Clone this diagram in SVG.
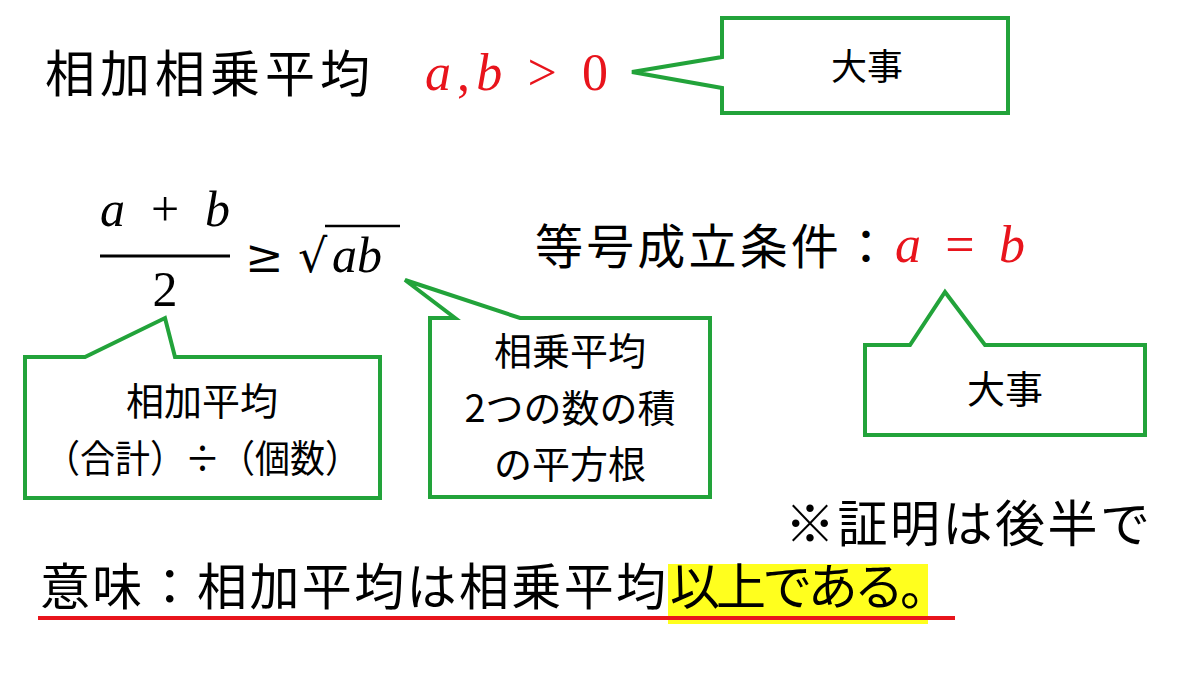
<svg xmlns="http://www.w3.org/2000/svg" width="1200" height="675" viewBox="0 0 1200 675">
<style>
.j{font-family:"Noto Sans CJK JP","Noto Sans",sans-serif;fill:#000}
.m{font-family:"Liberation Serif","DejaVu Serif",serif;font-style:italic}
.r{fill:#e8141c}
.c{fill:#fff;stroke:#22a33a;stroke-width:4;stroke-linejoin:miter}
</style>
<rect width="1200" height="675" fill="#fff"/>
<g id="title"><text class="j" x="45" y="92" font-size="50" textLength="325" lengthAdjust="spacing">相加相乗平均</text>
<text x="425" y="90" font-size="52" class="m r" textLength="183" lengthAdjust="spacing">a<tspan font-style="normal">,</tspan>b <tspan font-style="normal">&gt; 0</tspan></text></g>
<g id="callout1"><path class="c" d="M722,18 H1008 V113 H722 V88 L632,72 L722,57 Z"/>
<text class="j" x="867" y="80" font-size="36" text-anchor="middle">大事</text></g>
<g id="formula">
<text x="100" y="226" font-size="50" class="m" textLength="130" lengthAdjust="spacing">a <tspan font-style="normal">+</tspan> b</text>
<line x1="100" y1="256" x2="230" y2="256" stroke="#000" stroke-width="3"/>
<text x="165" y="306" font-size="50" text-anchor="middle" font-family="Liberation Serif,serif">2</text>
<text x="245" y="272" font-size="46" font-family="DejaVu Serif,serif">≥</text>
<text x="298" y="272" font-size="46" font-family="DejaVu Serif,serif">√</text>
<line x1="325" y1="226" x2="400" y2="226" stroke="#000" stroke-width="2.5"/>
<text x="332" y="272" font-size="50" class="m">ab</text></g>
<g id="equality"><text class="j" x="535" y="264" font-size="48" textLength="355" lengthAdjust="spacing">等号成立条件：</text>
<text x="895" y="262" font-size="52" class="m r" textLength="130" lengthAdjust="spacing">a <tspan font-style="normal">=</tspan> b</text></g>
<g id="callout2"><path class="c" d="M25,357 H85 L165,318 L175,357 H380 V498 H25 Z"/>
<text class="j" x="202" y="415" font-size="38" text-anchor="middle">相加平均</text>
<text class="j" x="45" y="472" font-size="38" textLength="315" lengthAdjust="spacingAndGlyphs">（合計）÷（個数）</text></g>
<g id="callout3"><path class="c" d="M430,318 H455 L405,280 L520,318 H710 V497 H430 Z"/>
<text class="j" x="570" y="365" font-size="38" text-anchor="middle">相乗平均</text>
<text class="j" x="570" y="422" font-size="38" text-anchor="middle">2つの数の積</text>
<text class="j" x="570" y="478" font-size="38" text-anchor="middle">の平方根</text></g>
<g id="callout4"><path class="c" d="M865,345 H910 L945,292 L985,345 H1145 V435 H865 Z"/>
<text class="j" x="1005" y="403" font-size="38" text-anchor="middle">大事</text></g>
<text class="j" x="785" y="542" font-size="50" textLength="365" lengthAdjust="spacing">※証明は後半で</text>
<rect x="668" y="564" width="260" height="60" fill="#ffff1e"/>
<text class="j" x="40" y="605" font-size="50" textLength="626" lengthAdjust="spacing">意味：相加平均は相乗平均</text>
<text class="j" x="670" y="605" font-size="50" textLength="280" lengthAdjust="spacing">以上である。</text>
<line x1="38" y1="618" x2="955" y2="618" stroke="#e8141c" stroke-width="4"/>
</svg>
